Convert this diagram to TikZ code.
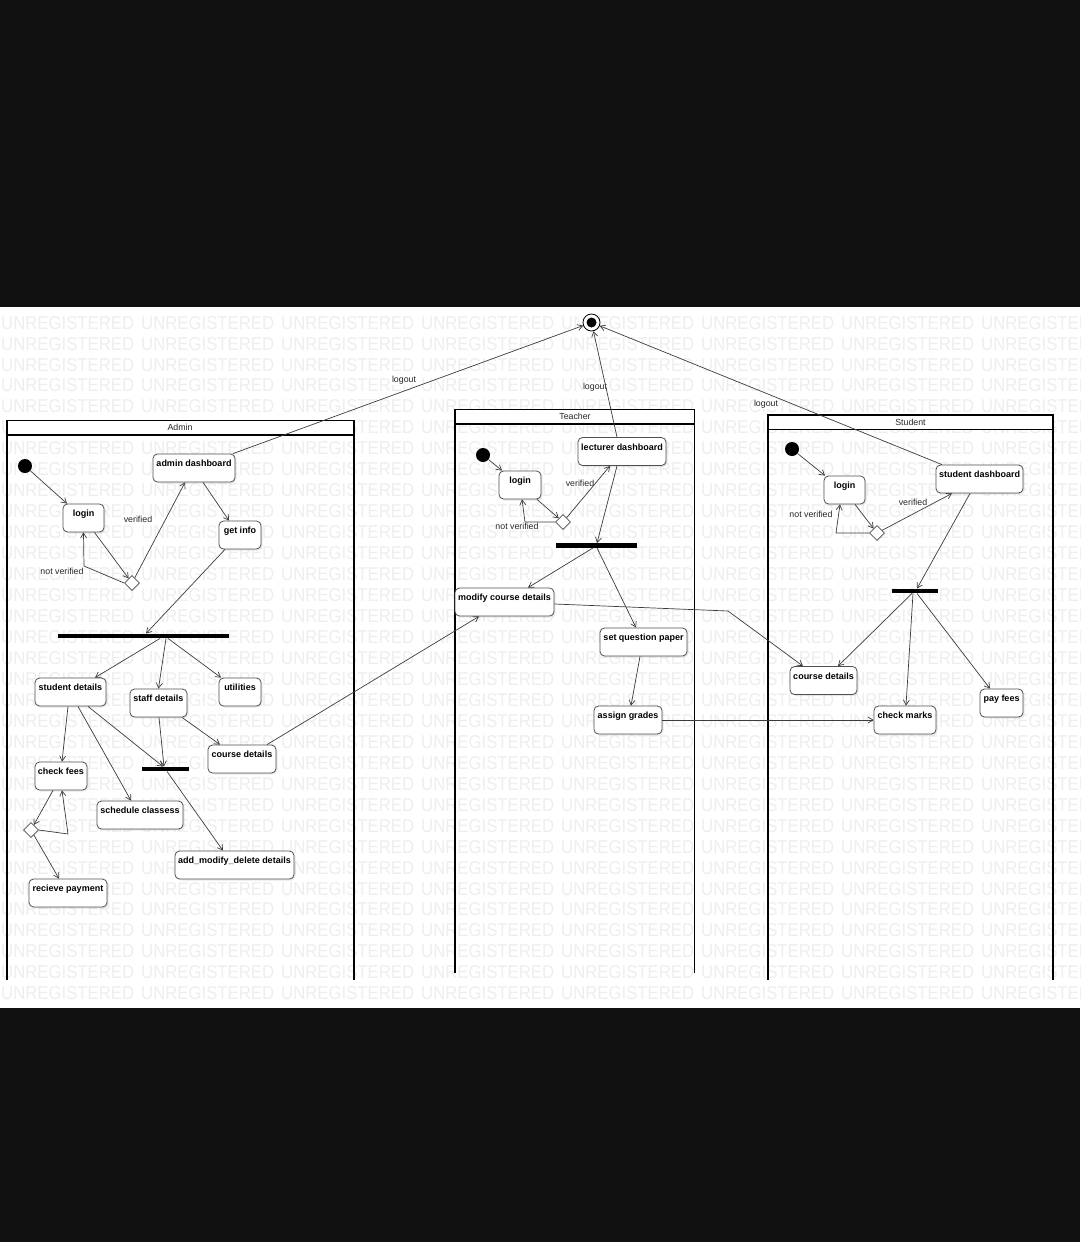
\documentclass[tikz,border=0pt]{standalone}
\usepackage{fontspec}
\setmainfont{Liberation Sans}
\usetikzlibrary{shapes.geometric,arrows.meta,shadows}
\definecolor{bandblack}{RGB}{17,17,17}
\definecolor{wmgray}{RGB}{238,238,238}
\definecolor{linegray}{RGB}{60,60,60}
\definecolor{boxgray}{RGB}{80,80,80}
\begin{document}
\begin{tikzpicture}[x=1pt,y=-1pt,
  wm/.style={font=\fontsize{18.6}{18.6}\selectfont, text=wmgray, inner sep=0pt, anchor=west, xscale=0.9},
  act/.style={draw=boxgray, line width=0.8pt, fill=white, rounded corners=4.5pt,
    font=\fontsize{9}{9}\selectfont\bfseries, inner sep=0pt, text height=12.5pt, text depth=15.5pt,
    drop shadow={shadow xshift=1.5pt, shadow yshift=-1.5pt, opacity=0.18}},
  dec/.style={diamond, draw=boxgray, fill=white, line width=0.8pt, minimum width=15pt, minimum height=15pt, inner sep=0pt,
    drop shadow={shadow xshift=1pt, shadow yshift=-1pt, opacity=0.15}},
  bar/.style={fill=black, inner sep=0pt, minimum height=4.5pt},
  init/.style={circle, fill=black, inner sep=0pt, minimum size=14pt},
  flow/.style={draw=linegray, line width=0.7pt, -{Straight Barb[length=5pt,width=6pt]}},
  lbl/.style={font=\fontsize{8.8}{8.8}\selectfont, fill=white, inner sep=0.5pt, text=black!85},
  lanetitle/.style={font=\fontsize{8.8}{8.8}\selectfont, inner sep=0pt, text=black!85},
  lane/.style={draw=black, line width=1.2pt}
]
\useasboundingbox (0,0) rectangle (1080,1242);
% background
\fill[bandblack] (0,0) rectangle (1080,1242);
\fill[white] (0,307) rectangle (1080,1008);
% watermark
\foreach \r in {0,...,32}{
  \foreach \c in {0,...,7}{
    \node[wm] at ({1+140*\c},{322.7+20.96*\r}) {UNREGISTERED};
  }
}
% lanes
\fill[white] (7,420.5) rectangle (354,435);
\draw[lane] (7,980) -- (7,420.5) -- (354,420.5) -- (354,980);
\draw[lane] (7,435) -- (354,435);
\node[lanetitle] (adminT) at (180,427.5) {Admin};

\fill[white] (455,409.5) rectangle (694.5,424);
\draw[lane] (455,973) -- (455,409.5) -- (694.5,409.5) -- (694.5,973);
\draw[lane] (455,424) -- (694.5,424);
\node[lanetitle] (teacherT) at (575,416.5) {Teacher};

\fill[white] (768,415) rectangle (1053,429.5);
\draw[lane] (768,980) -- (768,415) -- (1053,415) -- (1053,980);
\draw[lane] (768,429.5) -- (1053,429.5);
\node[lanetitle] (studentT) at (910.5,422) {Student};

% final state
\node[circle, draw=black, line width=0.8pt, fill=white, minimum size=17pt, inner sep=0pt] (fin) at (591.5,322.5) {};
\fill[black] (fin.center) circle[radius=5pt];

% ---------- Admin ----------
\node[init] (a_init) at (25,466) {};
\node[act, minimum width=41pt] (a_login) at (83.5,518) {login};
\node[act, minimum width=82pt] (a_dash) at (194,468) {admin dashboard};
\node[act, minimum width=42pt] (a_getinfo) at (240,535) {get info};
\node[dec] (a_dec) at (132,583) {};
\node[bar, minimum width=171pt] (a_fork) at (143.5,636) {};
\node[act, minimum width=71pt] (a_student) at (70.5,692) {student details};
\node[act, minimum width=57pt] (a_staff) at (158.5,703) {staff details};
\node[act, minimum width=42pt] (a_util) at (240,692) {utilities};
\node[act, minimum width=68pt] (a_course) at (242,759) {course details};
\node[bar, minimum width=47pt] (a_join) at (165.5,769) {};
\node[act, minimum width=52pt] (a_check) at (61,776) {check fees};
\node[act, minimum width=86pt] (a_sched) at (140,815) {schedule classess};
\node[act, minimum width=119pt] (a_amd) at (234.5,865) {add\_modify\_delete details};
\node[dec] (a_dec2) at (31,830) {};
\node[act, minimum width=78pt] (a_pay) at (68,893) {recieve payment};

% ---------- Teacher ----------
\node[init] (t_init) at (483,455) {};
\node[act, minimum width=42pt] (t_login) at (520,485) {login};
\node[act, minimum width=88pt] (t_dash) at (622,451.5) {lecturer dashboard};
\node[dec] (t_dec) at (563,522) {};
\node[bar, minimum width=81pt] (t_fork) at (596.5,545.5) {};
\node[act, minimum width=99pt] (t_modify) at (504.5,602) {modify course details};
\node[act, minimum width=87pt] (t_setq) at (643.5,642) {set question paper};
\node[act, minimum width=68pt] (t_assign) at (628,720) {assign grades};

% ---------- Student ----------
\node[init] (s_init) at (792,449) {};
\node[act, minimum width=41pt] (s_login) at (844.5,490) {login};
\node[act, minimum width=87pt] (s_dash) at (979.5,479) {student dashboard};
\node[dec] (s_dec) at (877,533) {};
\node[bar, minimum width=46pt] (s_fork) at (915,591) {};
\node[act, minimum width=67pt] (s_course) at (823.5,680.5) {course details};
\node[act, minimum width=62pt] (s_check) at (905,720) {check marks};
\node[act, minimum width=43pt] (s_pay) at (1001.5,703) {pay fees};

% labels
\node[lbl] (l_av) at (138,519) {verified};
\node[lbl] (l_anv) at (62,571) {not verified};
\node[lbl] (l_alo) at (404,380) {logout};
\node[lbl] (l_tv) at (580,483) {verified};
\node[lbl] (l_tnv) at (517,526.5) {not verified};
\node[lbl] (l_tlo) at (595,387) {logout};
\node[lbl] (l_sv) at (913,502) {verified};
\node[lbl] (l_snv) at (811,514) {not verified};
\node[lbl] (l_slo) at (766,404) {logout};

% ---------- Admin connectors ----------
\draw[flow] (a_init) -- ([xshift=-16.5pt]a_login.north);
\draw[flow] ([xshift=11pt]a_login.south) -- (a_dec);
\draw[flow] (a_dec) -- ([xshift=-9pt]a_dash.south);
\draw[flow] (a_dec.west) -- (84,566) -- (a_login.south);
\draw[flow] ([xshift=9pt]a_dash.south) -- ([xshift=-11pt]a_getinfo.north);
\draw[flow] ([xshift=-15pt]a_getinfo.south) -- ([xshift=2.5pt]a_fork.north);
\draw[flow] ([xshift=16.5pt]a_fork.south) -- ([xshift=24.5pt]a_student.north);
\draw[flow] ([xshift=22.5pt]a_fork.south) -- (a_staff.north);
\draw[flow] ([xshift=24.5pt]a_fork.south) -- ([xshift=-19pt]a_util.north);
\draw[flow] ([xshift=23.5pt]a_staff.south) -- ([xshift=-22pt]a_course.north);
\draw[flow] ([xshift=0.5pt]a_staff.south) -- ([xshift=-1.5pt]a_join.north);
\draw[flow] ([xshift=17.5pt]a_student.south) -- ([xshift=-2.5pt]a_join.north);
\draw[flow] ([xshift=-2.5pt]a_student.south) -- ([xshift=1pt]a_check.north);
\draw[flow] ([xshift=7.5pt]a_student.south) -- ([xshift=-9pt]a_sched.north);
\draw[flow] ([xshift=1.5pt]a_join.south) -- ([xshift=-11.5pt]a_amd.north);
\draw[flow] ([xshift=-8pt]a_check.south) -- (a_dec2);
\draw[flow] (a_dec2.east) -- (68,834) -- ([xshift=1pt]a_check.south);
\draw[flow] (a_dec2) -- ([xshift=-9pt]a_pay.north);
\draw[flow] ([xshift=25pt]a_course.north) -- ([xshift=-25.5pt]t_modify.south);
\draw[flow] ([xshift=39pt]a_dash.north) -- (fin);

% ---------- Teacher connectors ----------
\draw[flow] (t_init) -- ([xshift=-18pt]t_login.north);
\draw[flow] ([xshift=17pt]t_login.south) -- (t_dec);
\draw[flow] (t_dec) -- ([xshift=-12pt]t_dash.south);
\draw[flow] (t_dec.west) -- (525,522) -- ([xshift=2pt]t_login.south);
\draw[flow] ([xshift=-5pt]t_dash.north) -- (fin);
\draw[flow] ([xshift=-5pt]t_dash.south) -- ([xshift=0.5pt]t_fork.north);
\draw[flow] ([xshift=-3.5pt]t_fork.south) -- ([xshift=23.5pt]t_modify.north);
\draw[flow] ([xshift=0.5pt]t_fork.south) -- ([xshift=-7.5pt]t_setq.north);
\draw[flow] ([xshift=-3.5pt]t_setq.south) -- ([xshift=3pt]t_assign.north);
\draw[flow] ([yshift=-2pt]t_modify.east) -- (728,611) -- ([xshift=-20.5pt]s_course.north);
\draw[flow] (t_assign.east) -- (s_check.west);

% ---------- Student connectors ----------
\draw[flow] (s_init) -- ([xshift=-19.5pt]s_login.north);
\draw[flow] ([xshift=10.5pt]s_login.south) -- (s_dec);
\draw[flow] (s_dec) -- ([xshift=-27.5pt]s_dash.south);
\draw[flow] (s_dec.west) -- (836,533) -- ([xshift=-4.5pt]s_login.south);
\draw[flow] ([xshift=-37.5pt]s_dash.north) -- (fin);
\draw[flow] ([xshift=-9.5pt]s_dash.south) -- ([xshift=2pt]s_fork.north);
\draw[flow] ([xshift=-3pt]s_fork.south) -- ([xshift=14.5pt]s_course.north);
\draw[flow] ([xshift=-2pt]s_fork.south) -- ([xshift=1pt]s_check.north);
\draw[flow] ([xshift=2pt]s_fork.south) -- ([xshift=-11.5pt]s_pay.north);
\end{tikzpicture}
\end{document}
